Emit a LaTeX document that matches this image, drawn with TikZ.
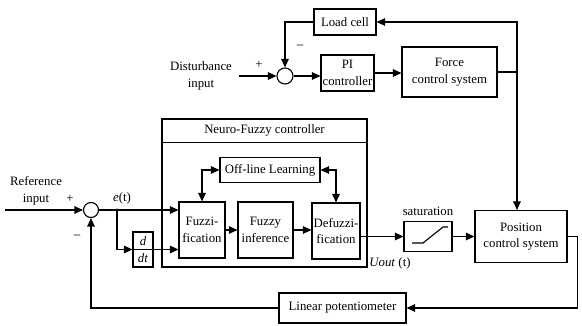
\documentclass[tikz,border=0pt]{standalone}
\usepackage{fontspec}
\setmainfont{Liberation Serif}
\usetikzlibrary{arrows.meta}

\tikzset{
  txt/.style={inner sep=0pt, align=center, font=\fontsize{12.8}{16.5}\selectfont},
  block/.style={txt, draw, line width=1.1pt, inner sep=1pt},
  sumnode/.style={draw, circle, line width=1.1pt, inner sep=0pt},
  sig/.style={line width=1.1pt},
  flow/.style={sig, -{Triangle[length=8.5pt,width=7.5pt]}},
  biflow/.style={sig, {Triangle[length=8.5pt,width=7.5pt]}-{Triangle[length=8.5pt,width=7.5pt]}}
}

\begin{document}
\begin{tikzpicture}[x=1pt,y=-1pt]
  \useasboundingbox (0,0) rectangle (582,326);

  % force loop
  \node[block, minimum width=62, minimum height=26] (loadcell) at (345,22) {Load cell};
  \node[sumnode, minimum size=16] (sumtop) at (285,76) {};
  \node[block, minimum width=53, minimum height=36] (pi) at (347.5,73) {PI\\controller};
  \node[block, minimum width=95, minimum height=50] (force) at (449.5,72) {Force\\control system};
  \coordinate (fjoin) at (517,72);
  \node[txt] (dist) at (201,76) {Disturbance\\input};
  \node[txt] (plustop) at (259,65) {+};
  \node[txt] (minustop) at (300,47) {--};

  % neuro-fuzzy controller
  \node[draw, line width=1.1pt, minimum width=205, minimum height=148] (nf) at (264.5,193) {};
  \node[txt, anchor=north, minimum height=24] (nftitle) at (nf.north) {Neuro-Fuzzy controller};
  \draw[sig] (nf.west |- nftitle.south) -- (nf.east |- nftitle.south);
  \node[block, minimum width=100, minimum height=25] (learn) at (270,170) {Off-line Learning};
  \node[block, minimum width=46, minimum height=56] (fuzzi) at (202,230) {Fuzzi-\\fication};
  \node[block, minimum width=55, minimum height=56] (infer) at (265.5,230) {Fuzzy\\inference};
  \node[block, minimum width=48, minimum height=56] (defuzzi) at (336,231) {Defuzzi-\\fication};

  % error and derivative
  \node[txt] (refin) at (36,191) {Reference\\input};
  \coordinate (refstart) at (5,210);
  \node[sumnode, minimum size=15] (sumref) at (91,210) {};
  \node[txt] (plusref) at (70,199) {+};
  \node[txt] (minusref) at (77,237) {--};
  \coordinate (etap) at (117,210);
  \node[txt] (etxt) at (122,198) {\textit{e}(t)};
  \node[draw, line width=1.1pt, minimum width=20, minimum height=35, inner sep=0pt] (ddt) at (143,249.5) {};
  \draw[sig] (ddt.west) -- (ddt.east);
  \node[txt] (dnum) at (143,241) {\textit{d}};
  \node[txt] (dden) at (143,258.5) {\textit{dt}};

  % plant side
  \node[block, minimum width=48, minimum height=30] (sat) at (428,236.5) {};
  \draw[sig] ([shift={(-16,6.5)}]sat.center) -- ++(11,0) -- ++(20,-16) -- ++(5,0);
  \node[txt] (sattxt) at (428,211) {saturation};
  \node[txt] (uout) at (390,263) {\textit{Uout} (t)};
  \node[block, minimum width=92, minimum height=52] (pos) at (521,236.5) {Position\\control system};
  \node[block, minimum width=127, minimum height=30] (lin) at (342.5,308) {Linear potentiometer};

  \draw[flow, shorten <=7pt] (dist.east) -- (sumtop.west);
  \draw[flow] (sumtop.east) -- (sumtop.east -| pi.west);
  \draw[flow] (pi.east) -- (pi.east -| force.west);
  \draw[sig] (force.east) -- (fjoin);
  \fill (fjoin) circle (1.2);
  \draw[flow] (fjoin) |- (loadcell.east);
  \draw[flow] (fjoin) -- (fjoin |- pos.north);
  \draw[flow] (loadcell.west) -| (sumtop.north);

  \draw[flow] (refstart) -- (sumref.west);
  \draw[flow] (sumref.east) -- (sumref.east -| fuzzi.west);
  \fill (etap) circle (1.5);
  \draw[flow] (etap) |- (ddt.west);
  \draw[flow] (ddt.east) -- (ddt.east -| fuzzi.west);
  \draw[flow] (fuzzi.east) -- (infer.west);
  \draw[flow] (infer.east) -- (defuzzi.west |- infer.east);
  \draw[biflow] (learn.west) -| (fuzzi.north);
  \draw[biflow] (learn.east) -| (defuzzi.north);
  \draw[flow] (defuzzi.east |- sat.west) -- (sat.west);
  \draw[flow] (sat.east) -- (pos.west);
  \draw[flow] (pos.east) -- ++(10,0) |- (lin.east);
  \draw[flow] (lin.west) -| (sumref.south);
\end{tikzpicture}
\end{document}
